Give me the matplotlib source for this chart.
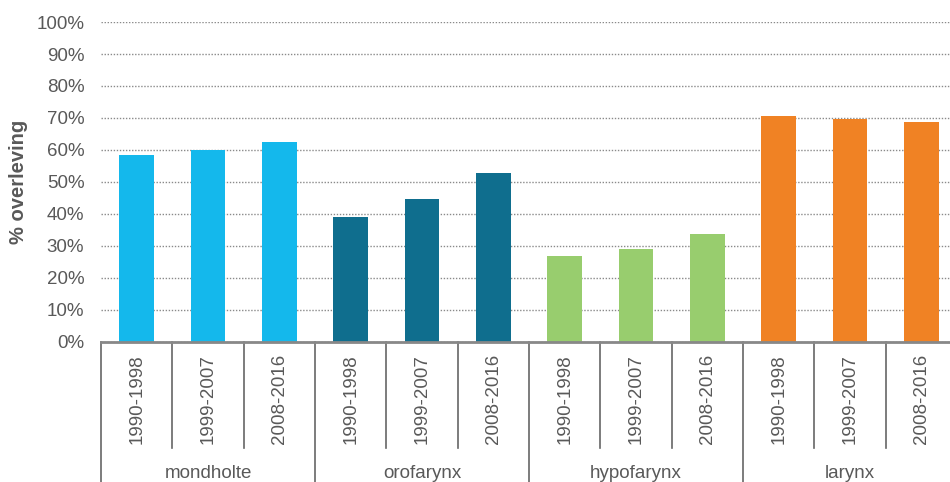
import matplotlib.pyplot as plt
import matplotlib.transforms as mtransforms
import numpy as np

plt.rcParams['font.family'] = ['Liberation Sans', 'DejaVu Sans']

# overleving per periode en per tumorlocatie (%)
groepen = ["mondholte", "orofarynx", "hypofarynx", "larynx"]
perioden = ["1990-1998", "1999-2007", "2008-2016"]
mondholte = [58.5, 60.0, 62.5]
orofarynx = [39.0, 44.8, 52.8]
hypofarynx = [27.0, 29.2, 33.8]
larynx = [70.7, 69.8, 68.9]
kleuren = ["#14B8EC", "#0F6E8E", "#98CD6E", "#F08224"]

waarden = [mondholte, orofarynx, hypofarynx, larynx]
grijs = "#595959"

fig = plt.figure(figsize=(9.5, 4.82), dpi=100)
ax = fig.add_axes([101 / 950, 140 / 482, 856 / 950, 320 / 482])

x = 0
for g, vals in enumerate(waarden):
    for v in vals:
        ax.bar(x, v / 100, width=0.49, color=kleuren[g], zorder=3)
        x += 1

n = x
ax.set_xlim(-0.5, n - 0.5)
ax.set_ylim(0, 1)
ax.set_yticks(np.arange(0, 1.01, 0.1))
ax.set_yticklabels([f"{int(round(t * 100))}%" for t in np.arange(0, 1.01, 0.1)])
ax.tick_params(axis="y", length=0, labelsize=13.5, labelcolor=grijs, pad=12)
ax.set_xticks([])
ax.yaxis.grid(True, color="#8a8a8a", linestyle=(0, (1, 1.2)), linewidth=1, zorder=0)
for s in ["left", "right", "top"]:
    ax.spines[s].set_visible(False)
ax.spines["bottom"].set_color("#888888")
ax.spines["bottom"].set_linewidth(2)
ax.spines["bottom"].set_zorder(4)

fig.text(19 / 950, 0.622, "% overleving", rotation=90, ha="center", va="center",
         fontsize=14.5, fontweight="bold", color=grijs)

# labels in twee niveaus onder de as
trans = mtransforms.blended_transform_factory(ax.transData, ax.transAxes)
for i in range(n + 1):
    grens = i - 0.5
    onder = -0.44 if i % 3 == 0 else -0.331
    ax.plot([grens, grens], [0, onder], color="#666666", linewidth=1.2,
            transform=trans, clip_on=False)

for i in range(n):
    ax.text(i, -0.178, perioden[i % 3], transform=trans, rotation=90,
            ha="center", va="center", fontsize=13.5, color=grijs)

for g, naam in enumerate(groepen):
    ax.text(g * 3 + 1, -0.41, naam, transform=trans, ha="center",
            va="center", fontsize=13.5, color=grijs)

fig.savefig("out.png", dpi=100)
